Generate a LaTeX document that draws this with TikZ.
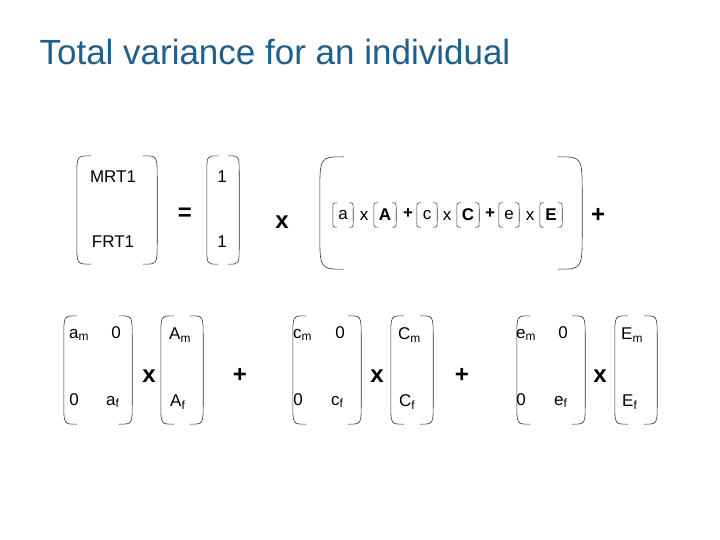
\documentclass[tikz,border=0pt]{standalone}
\usepackage{fontspec}
\setmainfont{Liberation Sans}
\usepackage{xcolor}
\usetikzlibrary{calc}
\definecolor{titleblue}{RGB}{31,95,140}

\tikzset{
  txt/.style={font=\fontsize{17}{19}\selectfont, inner sep=0pt},
  bold/.style={font=\fontsize{17}{19}\selectfont\bfseries},
  op/.style={font=\fontsize{24}{26}\selectfont\bfseries, inner sep=0pt},
  box/.style={inner sep=0pt},
  paren/.style={draw, line width=0.6pt, black!80},
}
\newcommand\parens[2]{%
  \draw[paren] ($(#1.north west)+(#2,0)$) .. controls (#1.north west) .. ($(#1.north west)+(0,#2*1.6)$)
    -- ($(#1.south west)+(0,-#2*1.6)$) .. controls (#1.south west) .. ($(#1.south west)+(#2,0)$);
  \draw[paren] ($(#1.north east)+(-#2,0)$) .. controls (#1.north east) .. ($(#1.north east)+(0,#2*1.6)$)
    -- ($(#1.south east)+(0,-#2*1.6)$) .. controls (#1.south east) .. ($(#1.south east)+(-#2,0)$);
}

\begin{document}
\begin{tikzpicture}[x=1pt,y=-1pt]
\useasboundingbox (0,0) rectangle (720,540);

\node[anchor=west, text=titleblue, font=\fontsize{35}{40}\selectfont] (title) at (36,52) {Total variance for an individual};

% top row
\node[box, minimum width=80, minimum height=108] (b1) at (117,210) {};
\node[box, minimum width=32, minimum height=108] (b2) at (223,210) {};
\node[box, minimum width=262, minimum height=112] (b3) at (451,213) {};
\parens{b1}{14}
\parens{b2}{11}
\parens{b3}{24}

\node[txt] (mrt) at (113,177) {MRT1};
\node[txt] (frt) at (113,242) {FRT1};
\node[txt] (one1) at (222,177) {1};
\node[txt] (one2) at (222,242) {1};
\node[op] (eq) at (185,214) {=};
\node[op] (x0) at (282,222) {x};
\node[op] (p0) at (598,215) {+};

\node[box, txt, minimum width=20, minimum height=24] (sa) at (343,215) {a};
\node[txt] (xa) at (364,216) {x};
\node[box, txt, bold, minimum width=22, minimum height=24] (sA) at (385,215) {A};
\node[txt, bold] (pa) at (408,214) {+};
\node[box, txt, minimum width=20, minimum height=24] (sc) at (427,215) {c};
\node[txt] (xc) at (447,216) {x};
\node[box, txt, bold, minimum width=22, minimum height=24] (sC) at (468,215) {C};
\node[txt, bold] (pc) at (490,214) {+};
\node[box, txt, minimum width=20, minimum height=24] (se) at (509,215) {e};
\node[txt] (xe) at (530,216) {x};
\node[box, txt, bold, minimum width=22, minimum height=24] (sE) at (551,215) {E};
\foreach \n in {sa,sA,sc,sC,se,sE} {\parens{\n}{4}}

% bottom row
\node[box, minimum width=68, minimum height=108] (B1) at (98,370) {};
\node[box, minimum width=42, minimum height=108] (B2) at (182,370) {};
\node[box, minimum width=68, minimum height=108] (B3) at (327,370) {};
\node[box, minimum width=42, minimum height=108] (B4) at (412,370) {};
\node[box, minimum width=68, minimum height=108] (B5) at (551,370) {};
\node[box, minimum width=42, minimum height=108] (B6) at (636,370) {};
\foreach \n in {B1,B2,B3,B4,B5,B6} {\parens{\n}{13}}

\node[txt, anchor=west] (am) at (69,335) {a\textsubscript{m}};
\node[txt] (a0) at (116,333) {0};
\node[txt] (a00) at (74,400) {0};
\node[txt, anchor=west] (af) at (106,402) {a\textsubscript{f}};
\node[txt, anchor=west] (Am) at (169,335) {A\textsubscript{m}};
\node[txt, anchor=west] (Af) at (170,402) {A\textsubscript{f}};
\node[op] (xA) at (149,376) {x};
\node[op] (pA) at (240,375) {+};

\node[txt, anchor=west] (cm) at (293,335) {c\textsubscript{m}};
\node[txt] (c0) at (340,333) {0};
\node[txt] (c00) at (298,400) {0};
\node[txt, anchor=west] (cf) at (331,402) {c\textsubscript{f}};
\node[txt, anchor=west] (Cm) at (398,335) {C\textsubscript{m}};
\node[txt, anchor=west] (Cf) at (399,402) {C\textsubscript{f}};
\node[op] (xC) at (377,376) {x};
\node[op] (pC) at (462,375) {+};

\node[txt, anchor=west] (em) at (516,335) {e\textsubscript{m}};
\node[txt] (e0) at (563,333) {0};
\node[txt] (e00) at (521,400) {0};
\node[txt, anchor=west] (ef) at (554,402) {e\textsubscript{f}};
\node[txt, anchor=west] (Em) at (621,335) {E\textsubscript{m}};
\node[txt, anchor=west] (Ef) at (622,402) {E\textsubscript{f}};
\node[op] (xE) at (600,376) {x};
\end{tikzpicture}
\end{document}
